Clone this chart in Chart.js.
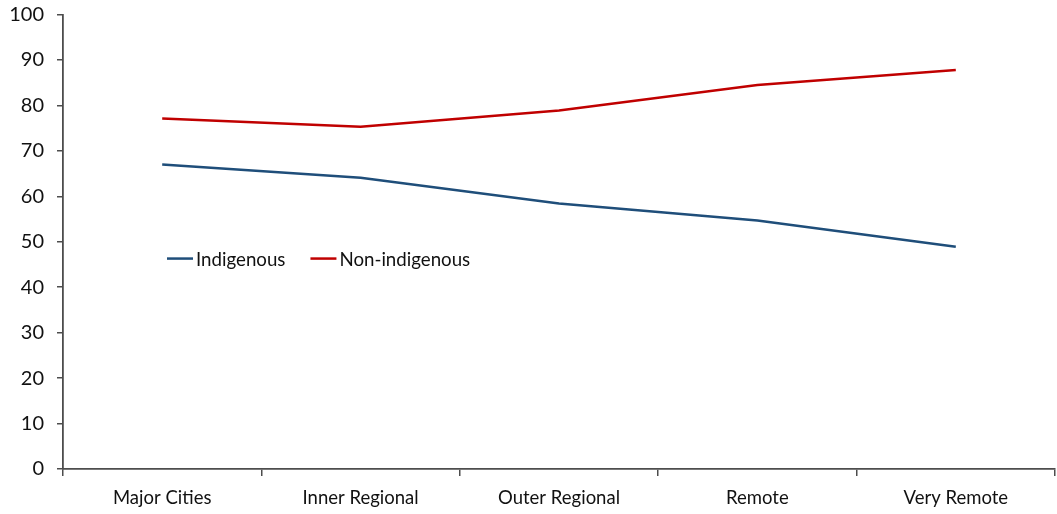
<!DOCTYPE html>
<html>
<head>
<meta charset="utf-8">
<script src="https://cdn.jsdelivr.net/npm/chart.js@4.4.1/dist/chart.umd.min.js"></script>
<style>
  html, body { margin: 0; padding: 0; background: #ffffff; }
  #wrap { width: 1057px; height: 514px; position: relative; }
</style>
</head>
<body>
<div id="wrap"><canvas id="c"></canvas></div>
<script>
// Share of people (%) by remoteness area
const categories = ['Major Cities', 'Inner Regional', 'Outer Regional', 'Remote', 'Very Remote'];
const indigenous = [67.0, 64.1, 58.4, 54.7, 48.9];
const nonIndigenous = [77.1, 75.3, 78.9, 84.5, 87.8];
const yTicks = [0, 10, 20, 30, 40, 50, 60, 70, 80, 90, 100];

const FONT = 'Lato, "Open Sans", sans-serif';
const AXIS = '#4d4d4d';

// Legend drawn inside the plot area, left of centre
const innerLegend = {
  id: 'innerLegend',
  afterDraw(chart) {
    const ctx = chart.ctx;
    const yScale = chart.scales.y;
    const y = yScale.getPixelForValue(46.3);
    let x = chart.chartArea.left + 104;
    ctx.save();
    ctx.font = '18.7px ' + FONT;
    ctx.textBaseline = 'middle';
    ctx.textAlign = 'left';
    chart.data.datasets.forEach(ds => {
      ctx.strokeStyle = ds.borderColor;
      ctx.lineWidth = 2.5;
      ctx.beginPath();
      ctx.moveTo(x, y);
      ctx.lineTo(x + 26, y);
      ctx.stroke();
      ctx.fillStyle = '#111111';
      ctx.fillText(ds.label, x + 29, y + 1);
      x += 29 + ctx.measureText(ds.label).width + 25;
    });
    ctx.restore();
  }
};

new Chart(document.getElementById('c'), {
  type: 'line',
  data: {
    labels: categories,
    datasets: [
      { label: 'Indigenous', data: indigenous, borderColor: '#1F4E7A', backgroundColor: '#1F4E7A',
        borderWidth: 2.5, pointRadius: 0, tension: 0 },
      { label: 'Non-indigenous', data: nonIndigenous, borderColor: '#C00000', backgroundColor: '#C00000',
        borderWidth: 2.5, pointRadius: 0, tension: 0 }
    ]
  },
  options: {
    responsive: true,
    maintainAspectRatio: false,
    animation: false,
    layout: { padding: { top: 0, right: 2, left: 0, bottom: 0 } },
    plugins: { legend: { display: false }, tooltip: { enabled: false } },
    scales: {
      x: {
        offset: true,
        grid: { offset: true, drawOnChartArea: false, drawTicks: true, tickLength: 7, color: AXIS, lineWidth: 1.5 },
        border: { color: AXIS, width: 1.8 },
        ticks: { color: '#111111', font: { family: FONT, size: 18.5 }, padding: 11, maxRotation: 0 },
        afterFit(scale) { scale.height = 45; }
      },
      y: {
        min: 0, max: 100,
        afterBuildTicks(scale) { scale.ticks = yTicks.map(v => ({ value: v })); },
        grid: { drawOnChartArea: false, drawTicks: true, tickLength: 6, color: AXIS, lineWidth: 1.5 },
        border: { color: AXIS, width: 1.8 },
        ticks: { color: '#111111', font: { family: FONT, size: 20 }, padding: 13 },
        afterFit(scale) { scale.width = 63; scale.paddingTop = 14.5; }
      }
    }
  },
  plugins: [innerLegend]
});
</script>
</body>
</html>
